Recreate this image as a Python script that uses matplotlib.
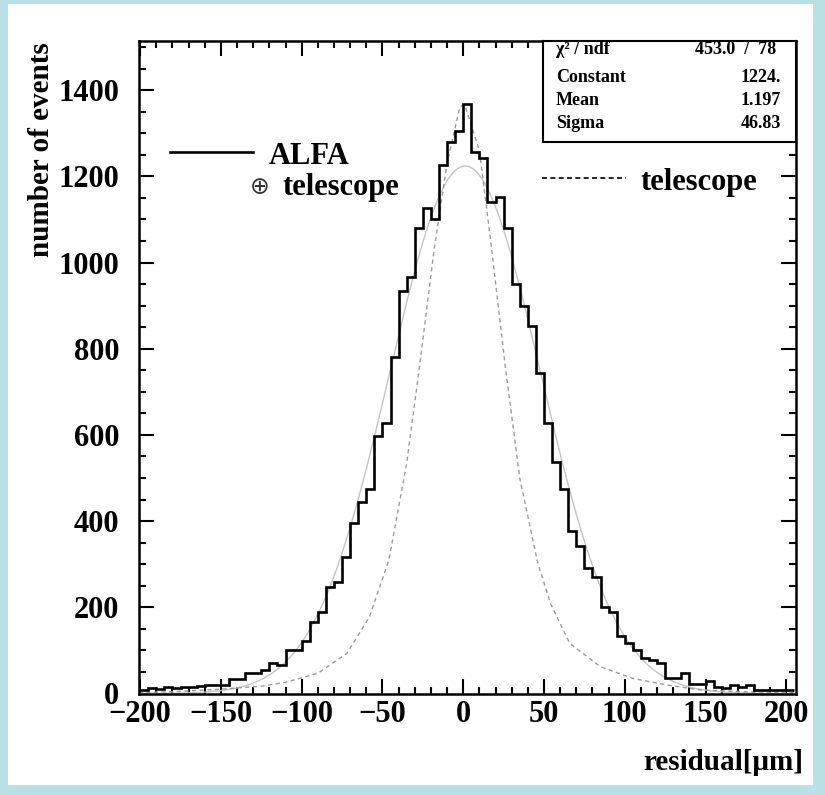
import numpy as np
import matplotlib.pyplot as plt
from matplotlib.patches import Rectangle

# histogram: 5 um bins, left edges from -200 to 200
bin_left = np.arange(-200, 205, 5)
counts = [8, 12, 10, 14, 12, 14, 16, 17, 20, 20,
          20, 33, 33, 47, 47, 55, 71, 66, 101, 101,
          122, 167, 190, 248, 259, 316, 395, 445, 474, 598,
          627, 780, 933, 966, 1079, 1126, 1102, 1226, 1280, 1306,
          1368, 1257, 1243, 1141, 1153, 1079, 951, 898, 853, 744,
          627, 536, 474, 376, 343, 292, 271, 201, 190, 133,
          118, 101, 83, 78, 70, 35, 35, 48, 22, 22,
          28, 16, 12, 20, 14, 19, 9, 9, 9, 9, 9]

# gaussian fit (stat box)
fit_const = 1224.0
fit_mean = 1.197
fit_sigma = 46.83

# telescope resolution curve
tel_x = [-201, -175, -150, -125, -110, -90, -72, -58, -46, -35, -27, -18, -10, -2,
         1, 10, 17, 26, 35, 46, 54, 66, 85, 105, 126, 147, 175, 206]
tel_y = [2, 5, 10, 17, 26, 47, 93, 178, 310, 534, 760, 1030, 1230, 1362,
         1366, 1260, 1050, 760, 500, 305, 209, 116, 62, 35, 20, 8, 4, 2]

stat_names = ['Constant', 'Mean', 'Sigma']
stat_vals = ['1224.', '1.197', '46.83']

plt.rcParams['font.family'] = ['Liberation Serif', 'DejaVu Serif']
plt.rcParams['font.weight'] = 'bold'

fig = plt.figure(figsize=(8.25, 7.95), dpi=100)
fig.patch.set_facecolor('#b9e0e4')
fig.patches.append(Rectangle((8/825, 10/795), 805/825, 781/795, transform=fig.transFigure,
                             facecolor='white', edgecolor='none', zorder=-10))

ax = fig.add_axes([138.5/825, 101.5/795, 657.5/825, 652.5/795])
ax.set_facecolor('white')

edges = np.append(bin_left, bin_left[-1] + 5)
ax.stairs(counts, edges, color='black', lw=1.9, baseline=None, zorder=3)

xf = np.linspace(-201, 206, 400)
ax.plot(xf, fit_const*np.exp(-0.5*((xf-fit_mean)/fit_sigma)**2), color='#c4c4c4', lw=1.0, zorder=2)
ax.plot(tel_x, tel_y, color='#9a9a9a', lw=1.0, ls=(0, (3, 2.5)), zorder=2)

ax.set_xlim(-201, 206)
ax.set_ylim(0, 1514)
ax.set_xticks(np.arange(-200, 201, 50))
ax.set_xticks(np.arange(-200, 201, 10), minor=True)
ax.set_yticks(np.arange(0, 1401, 200))
ax.set_yticks(np.arange(0, 1501, 50), minor=True)
ax.tick_params(which='both', direction='in', top=True, right=True, width=1.5, labelsize=22)
ax.tick_params(which='major', length=11)
ax.tick_params(which='minor', length=5)
ax.tick_params(axis='y', pad=14)
ax.tick_params(axis='x', pad=5)
for s in ax.spines.values():
    s.set_linewidth(1.8)

fig.text(42/825, 1-42/795, 'number of events', rotation=90, ha='center', va='top', fontsize=21)
fig.text(803/825, 1-763/795, 'residual[\u03bcm]', ha='right', va='center', fontsize=21)

# legends drawn by hand like ROOT
ax.plot([-181.5, -130], [1256, 1256], color='black', lw=1.9, clip_on=False)
ax.text(-120.6, 1246, 'ALFA', fontsize=22, va='center', ha='left')
ax.text(-132, 1176, '\u2295', fontsize=17, va='center', ha='left', fontweight='normal',
        family='DejaVu Sans', color='#333333')
ax.text(-112, 1174, 'telescope', fontsize=22, va='center', ha='left')
ax.plot([49, 101], [1196, 1196], color='black', lw=1.2, ls=(0, (3, 2)))
ax.text(110, 1186, 'telescope', fontsize=22, va='center', ha='left')

# stat box
bx = ax.inset_axes([543/825, 1-142/795, 253/825, 101/795], transform=fig.transFigure)
bx.set_xticks([])
bx.set_yticks([])
for s in bx.spines.values():
    s.set_linewidth(1.5)
bx.set_xlim(0, 1)
bx.set_ylim(0, 1)
bx.text(0.05, 0.92, '\u03c7\u00b2 / ndf', fontsize=13, va='center')
bx.text(0.92, 0.92, '453.0  /  78', fontsize=13, va='center', ha='right')
for i in range(3):
    yy = 0.64 - i*0.23
    bx.text(0.05, yy, stat_names[i], fontsize=13, va='center')
    bx.text(0.94, yy, stat_vals[i], fontsize=13, va='center', ha='right')

fig.savefig('out.png', dpi=100)
